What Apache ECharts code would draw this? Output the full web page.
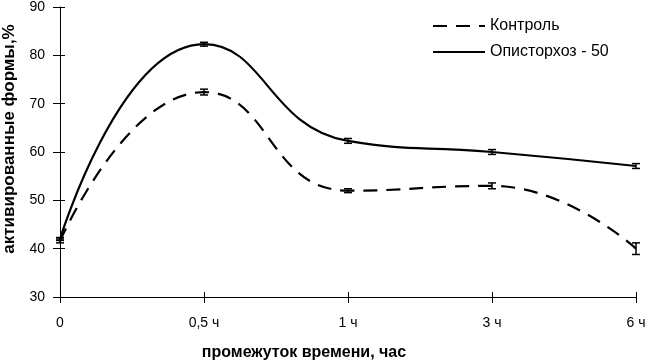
<!DOCTYPE html>
<html>
<head>
<meta charset="utf-8">
<script src="https://cdn.jsdelivr.net/npm/echarts@6/dist/echarts.min.js"></script>
<style>
html, body { margin: 0; padding: 0; background: #fff; }
#chart { width: 648px; height: 364px; }
</style>
</head>
<body>
<div id="chart"></div>
<script>
var categories = ['0', '0,5 ч', '1 ч', '3 ч', '6 ч'];
var control = [41.6, 72.4, 52, 53, 40];
var controlErr = [0.4, 0.6, 0.4, 0.6, 1.2];
var opist = [42, 82.3, 62.3, 60, 57.1];
var opistErr = [0.3, 0.4, 0.5, 0.5, 0.5];
var yTicks = [30, 40, 50, 60, 70, 80, 90];

function errData(vals, errs) {
	var out = [];
	for (var i = 0; i < vals.length; i++) {
		out.push([i, vals[i] - errs[i], vals[i] + errs[i]]);
	}
	return out;
}

function errRender(params, api) {
	var x = api.coord([api.value(0), api.value(1)])[0];
	var lo = api.coord([api.value(0), api.value(1)])[1];
	var hi = api.coord([api.value(0), api.value(2)])[1];
	var w = 4;
	var st = { stroke: '#000', lineWidth: 1.5 };
	return {
		type: 'group',
		children: [
			{ type: 'line', shape: { x1: x, y1: lo, x2: x, y2: hi }, style: st },
			{ type: 'line', shape: { x1: x - w, y1: lo, x2: x + w, y2: lo }, style: st },
			{ type: 'line', shape: { x1: x - w, y1: hi, x2: x + w, y2: hi }, style: st }
		]
	};
}

var chart = echarts.init(document.getElementById('chart'));
var font = 'Liberation Sans, Arial, sans-serif';
chart.setOption({
	animation: false,
	textStyle: { fontFamily: font },
	grid: { left: 60, right: 12, top: 7, bottom: 67, outerBoundsMode: 'none', containLabel: false },
	legend: {
		orient: 'vertical',
		left: 427,
		top: 13,
		itemWidth: 52,
		itemHeight: 12,
		itemGap: 10,
		itemStyle: { color: 'transparent', borderColor: 'transparent', borderWidth: 0 },
		textStyle: { fontFamily: font, fontSize: 16, color: '#000' },
		data: ['Контроль', 'Описторхоз - 50']
	},
	xAxis: [{
		type: 'category',
		data: categories,
		boundaryGap: false,
		name: 'промежуток времени, час',
		nameLocation: 'middle',
		nameGap: 48,
		nameTextStyle: { fontSize: 16, fontWeight: 'bold', color: '#000', padding: [0, 88, 0, 0] },
		axisLine: { lineStyle: { color: '#000', width: 1 } },
		axisTick: { alignWithLabel: true, length: 6, lineStyle: { color: '#000' } },
		axisLabel: { fontSize: 14, color: '#000', margin: 19 },
		splitLine: { show: false }
	}, {
		type: 'category',
		data: categories,
		boundaryGap: false,
		position: 'bottom',
		axisLine: { show: false },
		axisTick: { alignWithLabel: true, inside: true, length: 5, lineStyle: { color: '#000' } },
		axisLabel: { show: false },
		splitLine: { show: false }
	}],
	yAxis: [{
		type: 'value',
		min: 30,
		max: 90,
		interval: 10,
		name: 'активированные формы,%',
		nameLocation: 'middle',
		nameGap: 42,
		nameTextStyle: { fontSize: 17, fontWeight: 'bold', color: '#000', padding: [0, 0, 0, 26] },
		axisLine: { show: true, lineStyle: { color: '#000', width: 1 } },
		axisTick: { show: true, length: 7, lineStyle: { color: '#000' } },
		axisLabel: {
			fontSize: 14, color: '#000', margin: 15,
			formatter: function(v) { return yTicks.indexOf(v) >= 0 ? String(v) : ''; }
		},
		splitLine: { show: false }
	}, {
		type: 'value',
		min: 30,
		max: 90,
		interval: 10,
		position: 'left',
		axisLine: { show: false },
		axisTick: { show: true, inside: true, length: 5, lineStyle: { color: '#000' } },
		axisLabel: { show: false },
		splitLine: { show: false }
	}],
	series: [{
		name: 'Контроль',
		type: 'line',
		data: control,
		smooth: 0.5,
		symbol: 'none',
		itemStyle: { color: '#000' },
		lineStyle: { color: '#000', width: 2.2, type: [14, 9] }
	}, {
		name: 'Описторхоз - 50',
		type: 'line',
		data: opist,
		smooth: 0.5,
		symbol: 'none',
		itemStyle: { color: '#000' },
		lineStyle: { color: '#000', width: 2.2, type: 'solid' }
	}, {
		type: 'custom',
		renderItem: errRender,
		data: errData(control, controlErr),
		z: 5
	}, {
		type: 'custom',
		renderItem: errRender,
		data: errData(opist, opistErr),
		z: 5
	}]
});
</script>
</body>
</html>
